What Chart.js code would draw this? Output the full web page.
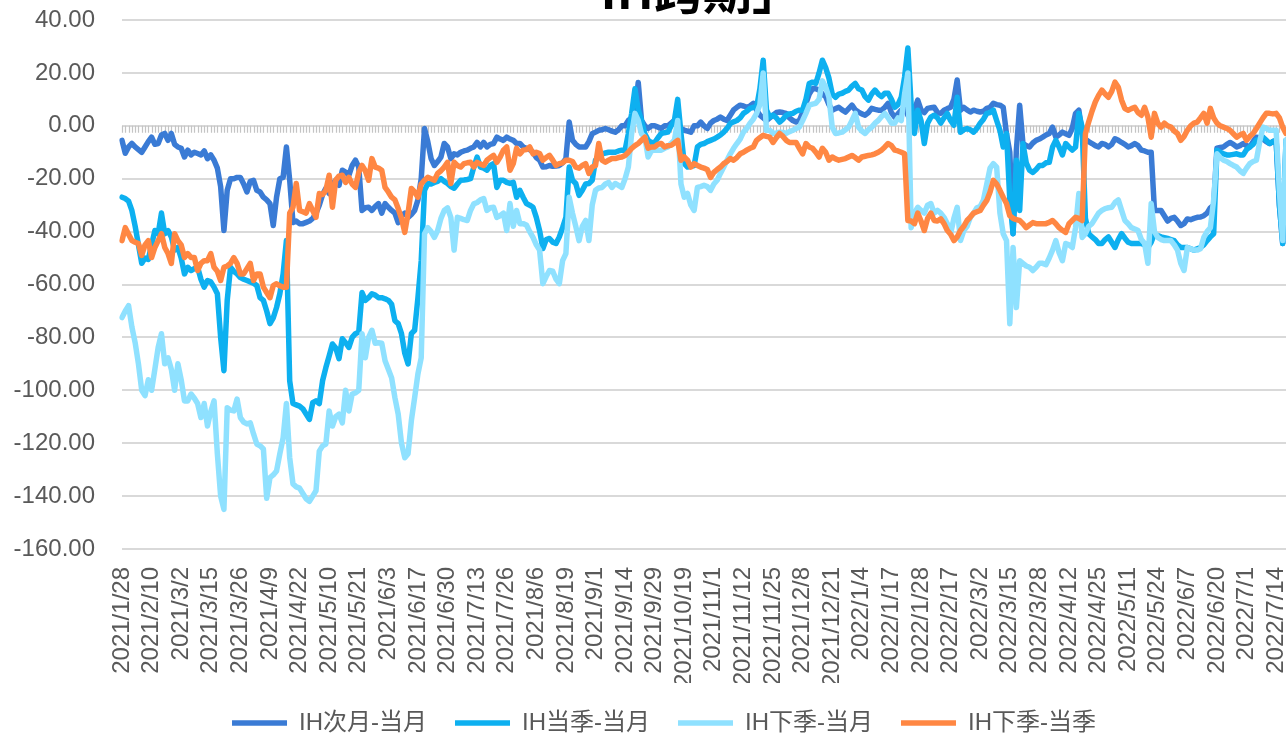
<!DOCTYPE html>
<html>
<head>
<meta charset="utf-8">
<script src="https://cdn.jsdelivr.net/npm/chart.js@4.4.1/dist/chart.umd.min.js"></script>
<style>
  html, body { margin: 0; padding: 0; background: #fff; overflow: hidden; }
  #wrap { position: absolute; left: 0; top: -50px; width: 1328px; height: 795px; }
</style>
</head>
<body>
<div id="wrap"><canvas id="ihChart"></canvas></div>
<script>
// 交易日 (月份 + 日)
const monthDays = [
    ['2021/1', [28, 29]],
    ['2021/2', [1, 2, 3, 4, 5, 8, 9, 10, 18, 19, 22, 23, 24, 25, 26]],
    ['2021/3', [1, 2, 3, 4, 5, 8, 9, 10, 11, 12, 15, 16, 17, 18, 19, 22, 23, 24, 25, 26, 29, 30, 31]],
    ['2021/4', [1, 2, 6, 7, 8, 9, 12, 13, 14, 15, 16, 19, 20, 21, 22, 23, 26, 27, 28, 29, 30]],
    ['2021/5', [6, 7, 10, 11, 12, 13, 14, 17, 18, 19, 20, 21, 24, 25, 26, 27, 28, 31]],
    ['2021/6', [1, 2, 3, 4, 7, 8, 9, 10, 11, 15, 16, 17, 18, 21, 22, 23, 24, 25, 28, 29, 30]],
    ['2021/7', [1, 2, 5, 6, 7, 8, 9, 12, 13, 14, 15, 16, 19, 20, 21, 22, 23, 26, 27, 28, 29, 30]],
    ['2021/8', [2, 3, 4, 5, 6, 9, 10, 11, 12, 13, 16, 17, 18, 19, 20, 23, 24, 25, 26, 27, 30, 31]],
    ['2021/9', [1, 2, 3, 6, 7, 8, 9, 10, 13, 14, 15, 16, 17, 22, 23, 24, 27, 28, 29, 30]],
    ['2021/10', [8, 11, 12, 13, 14, 15, 18, 19, 20, 21, 22, 25, 26, 27, 28, 29]],
    ['2021/11', [1, 2, 3, 4, 5, 8, 9, 10, 11, 12, 15, 16, 17, 18, 19, 22, 23, 24, 25, 26, 29, 30]],
    ['2021/12', [1, 2, 3, 6, 7, 8, 9, 10, 13, 14, 15, 16, 17, 20, 21, 22, 23, 24, 27, 28, 29, 30, 31]],
    ['2022/1', [4, 5, 6, 7, 10, 11, 12, 13, 14, 17, 18, 19, 20, 21, 24, 25, 26, 27, 28]],
    ['2022/2', [7, 8, 9, 10, 11, 14, 15, 16, 17, 18, 21, 22, 23, 24, 25, 28]],
    ['2022/3', [1, 2, 3, 4, 7, 8, 9, 10, 11, 14, 15, 16, 17, 18, 21, 22, 23, 24, 25, 28, 29, 30, 31]],
    ['2022/4', [1, 6, 7, 8, 11, 12, 13, 14, 15, 18, 19, 20, 21, 22, 25, 26, 27, 28, 29]],
    ['2022/5', [5, 6, 9, 10, 11, 12, 13, 16, 17, 18, 19, 20, 23, 24, 25, 26, 27, 30, 31]],
    ['2022/6', [1, 2, 6, 7, 8, 9, 10, 13, 14, 15, 16, 17, 20, 21, 22, 23, 24, 27, 28, 29, 30]],
    ['2022/7', [1, 4, 5, 6, 7, 8, 11, 12, 13, 14, 15, 18, 19]]
];
const dates = monthDays.flatMap(([m, days]) => days.map(d => m + '/' + d));

const seriesNames = ['IH次月-当月', 'IH当季-当月', 'IH下季-当月', 'IH下季-当季'];

// IH次月-当月
const ihNextMonth = [
    -5.5, -10.4, -8, -6.7, -8, -9, -10, -8, -6,
    -4.3, -7, -6.7, -3.5, -2.9, -5.5, -2.9, -7, -8,
    -8.5, -11.8, -9.2, -11, -10, -10.5, -11, -9.5, -12.4,
    -11, -13, -16, -23, -39.6, -24.4, -20, -20, -19.5,
    -19.5, -22, -25, -21, -20.6, -24.4, -25, -27, -28,
    -29.4, -37.7, -27, -20, -19.5, -8, -20.6, -36.6, -36,
    -37, -37, -36.5, -36, -35, -33, -30, -26, -23.6,
    -25.6, -22, -20.6, -22.5, -16.8, -17.5, -18.7, -15, -13,
    -15.6, -32, -31, -30.8, -32, -30.5, -29.4, -33, -29.4,
    -30.8, -32, -33, -36.6, -34, -33, -34.6, -33.5, -32,
    -28, -20, -1, -6, -12.4, -15, -13.5, -11.8, -6.7,
    -8, -12.4, -10.6, -11, -10, -9.5, -9.2, -8.5, -8,
    -6.3, -8, -6.3, -8, -7, -6.7, -4.3, -5, -5.5,
    -4.3, -5, -5.5, -6.7, -6.7, -8, -8.5, -9, -10,
    -12, -13, -15.6, -15.5, -15, -15.3, -15.2, -15, -14,
    -12.4, 1.4, -5.5, -7, -8, -8, -8, -6, -3,
    -2.4, -1.7, -1.5, -1, -1.5, -2, -2.4, -1.5, 0,
    0, 2, 3, 5, 16.4, 2, 0, -1, 0,
    0, -0.5, -1, 0, 0, 1, 2, 1.5, -1,
    -1.7, -2, -2.4, 0, 0, 1.4, 0, -1, 1,
    2, 2.5, 3.3, 2.5, 2, 4, 6, 7, 7.8,
    7.5, 7, 7.5, 8.5, 6, 4, 3, 2, 3,
    4, 5, 5.2, 5, 4.7, 3, 2, 1.4, 2,
    5, 8.5, 12, 14, 14, 13.5, 12, 11, 8,
    5.9, 6.5, 7, 6, 5.2, 6.5, 7.8, 6, 5.2,
    4.5, 4, 5, 6.6, 6.2, 5.9, 5.9, 7, 8.5,
    5, 3.3, 4.5, 5.9, 7, 4, 2, 6, 9.7,
    6, 5, 6.6, 6.8, 7, 5, 4.7, 5.9, 6.5,
    7, 10, 17.3, 5.9, 7, 6, 5.2, 5.9, 5.5,
    5.2, 5.5, 6.6, 7, 8.5, 8, 7.8, 7, -3,
    -10, -40.8, -9.2, 7.8, -6.7, -7.5, -8, -6.5, -5.5,
    -5, -4.3, -3.5, -2.9, -0.5, -4.3, -3.5, -2.4, -3,
    -3.6, -1, 4.7, 5.9, -2.9, -5, -6, -6.7, -7.5,
    -8, -6.7, -7, -8, -7, -4.9, -5.5, -6.3, -7,
    -8, -7.5, -6.7, -7.5, -9.2, -9.5, -10, -10, -32,
    -32, -32, -34, -36, -35, -34.6, -36, -37.7, -37,
    -35.2, -35.5, -35, -34.6, -34.5, -34, -33, -31, -30,
    -8.5, -8.2, -8, -7, -6.3, -7, -8, -7.5, -6.7,
    -7.5, -8, -6, -4.3, -4.5, -5, -6, -6.7, -6,
    -5.5, -30, -44.5, -6.7
];

// IH当季-当月
const ihQuarterMonth = [
    -27, -27.5, -28.5, -32, -38, -45, -52, -50, -50.5,
    -45, -39.6, -40.8, -33, -40.8, -39.6, -42, -47, -46,
    -50, -56, -53.5, -54.7, -54, -53.5, -58, -61, -58.5,
    -59, -61, -63.5, -80, -92.6, -66, -53.5, -55, -56,
    -57.4, -58, -58.5, -59, -59.5, -60.4, -65, -66, -70,
    -74.8, -72.6, -68.7, -63.5, -56, -43.4, -96.4, -105, -105.5,
    -106, -107, -109, -111, -104.7, -104, -105, -96.4, -91.4,
    -87, -82.5, -84, -88, -80.5, -82, -83.8, -80, -78.6,
    -78, -63, -66, -65, -63.5, -64, -65, -65, -65.4,
    -66, -67.5, -73.7, -74.8, -78.6, -86, -90, -78.6, -77.3,
    -65, -51, -24.4, -21.8, -22, -21.4, -21, -20, -21,
    -21.8, -23, -23.6, -22, -20.6, -20.5, -20.3, -20, -15.6,
    -11.8, -15.6, -16, -16.8, -15, -14.3, -23.3, -20.6, -20.6,
    -21.4, -21.8, -21.4, -27, -24.4, -27, -29.4, -30, -30.8,
    -34.6, -39.6, -46.4, -43, -42.6, -44, -44.5, -42, -38.5,
    -34.6, -15.6, -20.6, -21.8, -26.3, -24.4, -22, -21.8, -20.6,
    -13, -12, -10.6, -10.3, -10, -10, -10, -9.5, -9.2,
    -9.2, -2.9, 4.7, 14, 6, 2, -3, -5.5, -6.3,
    -6.3, -4.5, -2.9, -2.6, -2.4, 0, 2, 10, -2.9,
    -14.3, -15.6, -15.3, -15, -8, -7, -6.7, -6, -5.5,
    -5, -4.3, -3.5, -2.4, -1, 0.9, 1.5, 2, 3,
    4.7, 5.5, 6.6, 7, 7, 14, 24.8, 6, 3.3,
    4, 3, 1.4, 2.5, 4, 4.5, 4.7, 5.5, 5.9,
    6, 10, 16, 16.5, 16, 20, 24.8, 22, 18,
    12, 10.8, 12, 12.3, 13, 13.5, 15, 16, 14,
    13.5, 11, 9.7, 12, 13.5, 12, 11, 12.3, 12.3,
    10, 7, 8, 10.8, 18.4, 29.4, 8, -2.9, 5.9,
    2, -6.7, 1, 3.3, 4, 3, 1, 3, 4.7,
    2, 0.2, 10.8, -2.4, -1.5, -1, -1.5, -2.4, -1,
    1, 2.5, 4.7, 5, 5.9, 2, -1.7, -8, -2.9,
    -28, -40.8, -13, -32, -6.7, -14, -16.8, -17.6, -16.5,
    -15, -15, -14, -13.8, -8, -5.5, -8, -11, -6.7,
    -8, -9.2, -8, 4.7, -0.5, -35, -40.8, -42, -43,
    -44.5, -44.5, -43, -42, -44, -46, -43, -40.8, -42.5,
    -44, -44.5, -44.5, -44.5, -44.5, -45, -46, -44, -40.8,
    -41.5, -42, -42.3, -42.6, -43, -43.4, -45, -46, -46,
    -46, -46.5, -47, -46.5, -46, -45, -43.4, -42, -40.8,
    -9.2, -10, -10.6, -11, -11, -10.8, -10.6, -11, -11,
    -9, -8, -7, -5.5, -5, -4.3, -5.5, -6.7, -6,
    -5.5, -30, -44.5, -5.5
];

// IH下季-当月
const ihNextQuarterMonth = [
    -72.5, -70, -68, -76, -82, -90, -100, -102, -96,
    -100, -92, -83.8, -78.6, -90, -87.7, -92, -100, -90,
    -96, -104, -104, -101.4, -103, -105, -110.3, -105, -113.5,
    -108, -104, -124, -140, -145, -106.6, -107.5, -107.8, -103.3,
    -110.3, -112, -112.7, -112.3, -116.5, -120.3, -121, -122.2, -140.8,
    -133, -132, -130.5, -124, -118, -105, -125.5, -135.4, -136.5,
    -137, -139, -141, -142, -140, -138, -123, -121, -120.3,
    -107.8, -113.5, -110, -109, -112.3, -100, -107.8, -101.4, -101,
    -100, -78.6, -87.7, -80, -77.3, -82.2, -82, -82.2, -88.8,
    -92, -95.3, -102.8, -109, -120, -125.5, -124, -111.5, -102.8,
    -93.8, -87.7, -40.8, -38.5, -40, -42.2, -39.6, -35, -32,
    -31, -34.6, -47, -34.6, -35, -35.5, -35.8, -32, -29.5,
    -29, -28, -27.5, -32, -31, -30.8, -34.6, -34, -33,
    -39.6, -29.4, -38, -32, -37, -37, -37.5, -40, -42.2,
    -45, -47, -59.7, -57, -54.7, -55, -58, -59.7, -51,
    -48.3, -27, -33, -38, -43.4, -38, -35.8, -43.4, -30,
    -24.4, -23.5, -23.3, -22, -21.4, -23.3, -21.8, -22.5, -23.3,
    -20, -15.6, -2.9, 4.7, 2, -3, -4.3, -11.8, -9.5,
    -9.2, -9.2, -9.2, -8.5, -8, -6.7, -5.5, 2, -22,
    -27, -25.6, -30, -32, -23.3, -23, -22.5, -23, -24.4,
    -22, -20.6, -18, -15.6, -13, -10.6, -8.5, -6.7, -5,
    -2.4, -1, 1, 2.5, 4.7, 8, 20, -1.7, -1.7,
    -2.9, -2.7, -2.4, -2.5, -2.9, -2.2, -1.7, -1, -0.5,
    2, 4.7, 7.8, 8.2, 8.5, 10, 17, 14.6, 10.8,
    -0.5, -2.9, -2.7, -2.4, -1.5, -0.5, 2, 4.7, -0.5,
    -2, -2.9, -1.5, -0.5, 1, 2, 3.5, 4.7, 3,
    1, 1, 3, 2, 12, 20, -38.5, -33, -30.8,
    -32, -33, -30, -29.4, -33, -32, -33, -34.6, -37,
    -40.8, -35, -30.8, -43.4, -39.6, -38, -34.6, -33, -31,
    -30.5, -28, -22, -16, -14.3, -15.6, -33, -40.8, -43.4,
    -74.8, -46, -68.7, -51, -52, -53, -53.5, -54.7, -53.5,
    -52, -52, -52.5, -50, -47, -43.4, -48, -51, -44.5,
    -45, -46, -38.5, -25.6, -42.2, -40.8, -38, -37, -35,
    -33, -32, -31.3, -31, -30.8, -29, -28, -32, -35.8,
    -37, -38.5, -39, -39.6, -43, -44.5, -52, -29.4, -40,
    -42.2, -43, -43.4, -43.4, -43.4, -45, -47, -52, -54.7,
    -46, -46.5, -47, -47, -46.5, -42.2, -40, -38.5, -28,
    -10.6, -12, -13, -13.5, -14.3, -15, -15.6, -17, -18,
    -16, -14.3, -13.5, -13, -6, -0.5, -1, -1.7, -1.7,
    -1.7, -25, -43.4, -5.5
];

// IH下季-当季
const ihNextQuarterQuarter = [
    -43.4, -38.5, -41, -43.4, -44, -44.5, -49, -45, -43.4,
    -49.8, -46, -43.4, -40.8, -46, -48.3, -52, -40.8, -43.4,
    -45, -49.8, -48.3, -49.8, -49.8, -54.7, -52, -51, -51,
    -48.3, -53.5, -55, -58.5, -53.5, -53, -52, -49.8, -52,
    -56, -56, -54, -52, -58.5, -56, -56, -61, -63,
    -65, -60.4, -59.7, -60.5, -61, -61, -33, -30.8, -21.8,
    -32, -32.5, -33, -29.4, -32, -34.6, -25.6, -26, -24.4,
    -18.7, -30.8, -20.6, -19, -18.7, -21.4, -19.5, -22, -23.3,
    -17.6, -15, -17, -20.6, -12.4, -15.6, -16, -16.8, -23.3,
    -25, -27, -28, -31.3, -35, -40.3, -33, -23.7, -25,
    -27, -22, -20.6, -19.5, -20, -20.6, -18, -17, -15.6,
    -13.8, -21.8, -13.8, -15, -15.6, -14.3, -14, -13.8, -15.6,
    -13.8, -14.5, -15, -13, -12, -11.2, -13.8, -11.8, -9.2,
    -8, -16.8, -14.3, -8.5, -10.6, -9.2, -9, -8, -10.6,
    -10, -10.5, -13, -12, -11.2, -13, -15, -14.3, -14,
    -13, -13, -13.5, -15.6, -16, -15, -14.3, -18, -15.6,
    -15, -6.7, -13, -13.8, -13, -12.4, -12.4, -12, -11.8,
    -11.2, -10, -8.5, -7.5, -6.7, -5.5, -4.3, -8.5, -8,
    -8, -7, -6.7, -8, -7.5, -7.4, -6.5, -5.5, -13,
    -11.8, -13, -15.6, -14.3, -15, -15.6, -16, -16.5, -19.5,
    -17.6, -16.5, -15.6, -14.3, -13.5, -12.4, -13, -12, -10.6,
    -10, -9.2, -8.5, -8, -5.5, -4.5, -3.6, -4, -4.3,
    -6.3, -4.5, -2.9, -4, -5.5, -6.3, -6.3, -6.3, -8.5,
    -10.6, -6.7, -8, -8.5, -10, -11.8, -8.5, -10, -13,
    -11.8, -12.5, -13, -12.7, -12.4, -11.8, -11.2, -12, -13,
    -11.8, -11.5, -11.2, -11, -10.6, -10, -9.2, -8, -6.7,
    -7.5, -9.2, -9.5, -10, -10.6, -35.8, -36, -37, -33,
    -36, -39.6, -35, -33, -35.8, -36, -35.2, -37, -39.6,
    -41, -43.4, -42, -39.6, -38, -35.8, -34.5, -33, -32.5,
    -32, -30, -28.2, -25, -20.6, -22, -24.4, -27, -29.4,
    -34, -35, -35.5, -35.8, -37, -38.5, -37.5, -36.6, -37,
    -37, -37, -37, -36.5, -35.8, -37, -38.5, -39.5, -40.3,
    -37, -35.8, -34.6, -35, -35.8, -3, 1.5, 5.5, 9,
    11.5, 13.5, 12, 10.8, 13, 16.5, 14.6, 9.7, 6.5,
    5.9, 6.5, 7, 5, 4, 7, 3.3, -4.3, 4.7,
    1, -0.5, 1, 0, -0.5, -2, -2.9, -5.5, -4,
    -1.7, 0, 1, 1.4, 3, 4.7, 1, 6.6, 3,
    1, 0, -0.5, -1, -1.7, -3, -4.3, -3.5, -2.9,
    -5.5, -4, -2.9, -1, 1, 3, 4.7, 4.7, 4.5,
    4.7, 3, -0.5, -2.9
];

const seriesData = [ihNextMonth, ihQuarterMonth, ihNextQuarterMonth, ihNextQuarterQuarter];
const seriesColors = ['#3A7BD5', '#0DB0F0', '#8FE1FF', '#FF8743'];
const labelStep = 9; // 每 9 個交易日一個日期標籤

// 0 軸上的刻度線 (Excel 橫軸交於 0)
const zeroAxisTicks = {
    id: 'zeroAxisTicks',
    beforeDatasetsDraw(chart) {
        const { ctx, scales: { x, y } } = chart;
        const y0 = y.getPixelForValue(0);
        ctx.save();
        ctx.strokeStyle = '#c4c4c4';
        ctx.lineWidth = 1.2;
        ctx.beginPath();
        for (let i = 0; i < chart.data.labels.length; i++) {
            const px = Math.round(x.getPixelForValue(i)) + 0.5;
            ctx.moveTo(px, y0);
            ctx.lineTo(px, y0 + 7);
        }
        ctx.stroke();
        ctx.restore();
    }
};

Chart.defaults.font.family = "'Liberation Sans', 'Noto Sans CJK SC', sans-serif";
Chart.defaults.color = '#595959';

new Chart(document.getElementById('ihChart').getContext('2d'), {
    type: 'line',
    data: {
        labels: dates,
        datasets: seriesNames.map((name, i) => ({
            label: name,
            data: seriesData[i],
            borderColor: seriesColors[i],
            backgroundColor: seriesColors[i],
            borderWidth: 5.5,
            borderCapStyle: 'round',
            borderJoinStyle: 'round',
            pointRadius: 0,
            tension: 0,
            order: seriesNames.length - i
        }))
    },
    plugins: [zeroAxisTicks],
    options: {
        responsive: true,
        maintainAspectRatio: false,
        animation: false,
        layout: { padding: 0 },
        scales: {
            x: {
                grid: { display: false },
                border: { display: false },
                ticks: {
                    autoSkip: false,
                    minRotation: 90,
                    maxRotation: 90,
                    padding: 10,
                    font: { size: 24 },
                    callback: (value, index) => index % labelStep === 0 ? dates[index] : null
                },
                afterFit: (scale) => { scale.height = 134; }
            },
            y: {
                min: -160,
                max: 40,
                grid: { color: '#d9d9d9', lineWidth: 2, drawTicks: false },
                border: { display: false },
                ticks: {
                    stepSize: 20,
                    padding: 27,
                    font: { size: 24 },
                    callback: (value) => value.toFixed(2)
                },
                afterFit: (scale) => { scale.width = 122; }
            },
            pad: {
                type: 'linear',
                position: 'right',
                grid: { display: false },
                border: { display: false },
                ticks: { display: false },
                afterFit: (scale) => { scale.width = 42; }
            }
        },
        plugins: {
            title: {
                display: true,
                text: '\u2002「IH跨期」',
                color: '#000',
                font: { family: "'Noto Sans CJK SC'", size: 49, weight: 'bold', lineHeight: 1 },
                padding: { top: 16, bottom: 5 }
            },
            legend: {
                position: 'bottom',
                labels: {
                    usePointStyle: true,
                    pointStyle: 'line',
                    pointStyleWidth: 55,
                    padding: 28,
                    font: { size: 24 },
                    color: '#595959',
                    sort: (a, b) => a.datasetIndex - b.datasetIndex
                }
            },
            tooltip: { enabled: false }
        }
    }
});
</script>
</body>
</html>
